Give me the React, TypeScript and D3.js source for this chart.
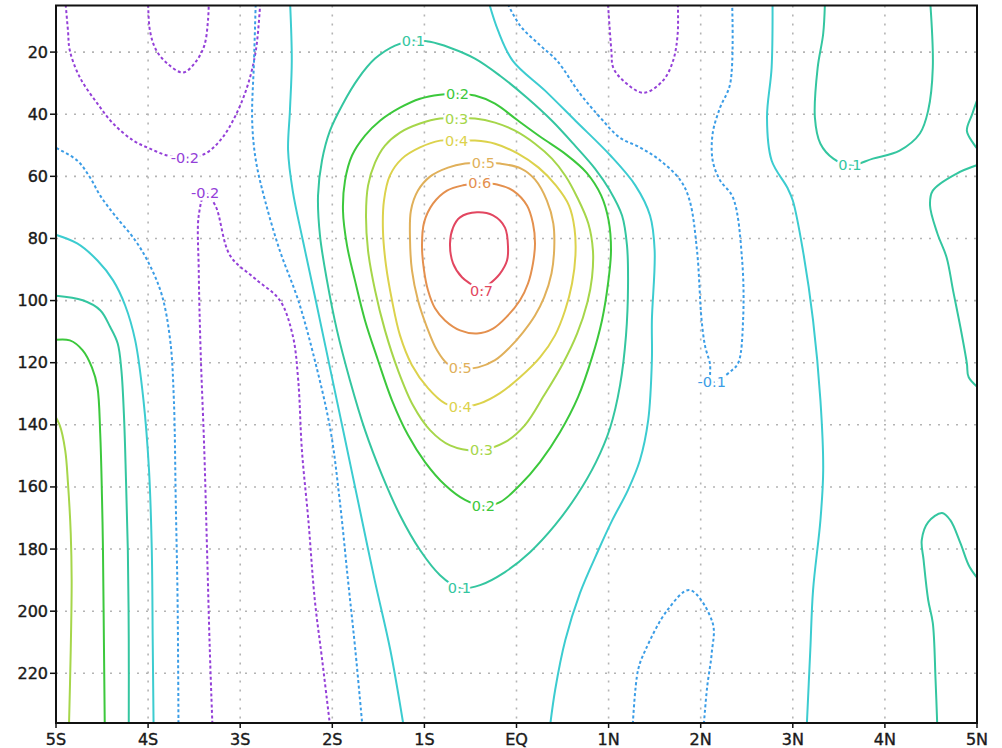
import React from 'react';
import * as d3 from 'd3';

const W = 1002;
const H = 748;
const PLOT = { left: 56, right: 977, top: 5.5, bottom: 723 };

const latDomain: [number, number] = [-5, 5];
const depthDomain: [number, number] = [5, 236];
const latTicks = [-5, -4, -3, -2, -1, 0, 1, 2, 3, 4, 5];
const latTickLabels = ['5S', '4S', '3S', '2S', '1S', 'EQ', '1N', '2N', '3N', '4N', '5N'];
const depthTicks = [20, 40, 60, 80, 100, 120, 140, 160, 180, 200, 220];

const levelColors: Record<string, string> = {
  '-0.2': '#9440d8',
  '-0.1': '#3b9de6',
  '0.0': '#3cccd0',
  '0.1': '#34c6a0',
  '0.2': '#3cc83c',
  '0.3': '#a6d64a',
  '0.4': '#dcd24c',
  '0.5': '#e0b05a',
  '0.6': '#e4904e',
  '0.7': '#e24660',
};

type P = [number, number];

// contour lines, [latitude, depth]
const neg02TopLeft: P[] = [[-4.9, 3], [-4.87, 13.1], [-4.85, 19.5], [-4.74, 28.2], [-4.55, 36.6], [-4.38, 43.0], [-4.16, 48.5], [-3.98, 51.1], [-3.79, 53.3], [-3.6, 54.0], [-3.38, 52.7], [-3.2, 47.8], [-3.05, 40.4], [-2.92, 30.8], [-2.83, 19.5], [-2.78, 3]];
const neg02TopSmall: P[] = [[-4.0, 3], [-3.98, 13.1], [-3.91, 19.5], [-3.79, 23.7], [-3.62, 26.6], [-3.49, 23.4], [-3.39, 17.9], [-3.35, 9.9], [-3.34, 3]];
const neg02Trough: P[] = [[-3.3, 238], [-3.33, 212.5], [-3.36, 180.3], [-3.39, 148.2], [-3.43, 116], [-3.45, 90.3], [-3.45, 72.6], [-3.38, 65.5], [-3.27, 69.4], [-3.11, 85.5], [-2.84, 92.9], [-2.57, 99.9], [-2.43, 111.2], [-2.37, 125.7], [-2.33, 148.2], [-2.26, 170.7], [-2.19, 196.4], [-2.11, 215.7], [-2.02, 238]];
const neg02TopRight: P[] = [[0.99, 3], [1.03, 19.5], [1.05, 25], [1.16, 29.2], [1.38, 33.1], [1.59, 29.2], [1.7, 22.8], [1.75, 14.1], [1.75, 3]];

const neg01Left: P[] = [[-5.05, 50.1], [-4.77, 54.9], [-4.63, 60.4], [-4.52, 66.2], [-4.36, 72.6], [-4.14, 80.6], [-3.98, 88.7], [-3.85, 98.3], [-3.76, 112.8], [-3.72, 132.1], [-3.7, 164.2], [-3.68, 196.4], [-3.67, 238]];
const neg01Mid: P[] = [[-2.83, 3], [-2.85, 22.8], [-2.87, 42.1], [-2.83, 54.9], [-2.73, 67.8], [-2.57, 83.9], [-2.37, 99.9], [-2.19, 119.2], [-2.02, 141.7], [-1.92, 164.2], [-1.83, 189.9], [-1.75, 212.5], [-1.67, 238]];
const neg01Right: P[] = [[-0.12, 3], [0.04, 11.5], [0.26, 17.9], [0.44, 22.8], [0.69, 33.4], [0.91, 41.1], [1.12, 47.5], [1.34, 50.7], [1.56, 54.9], [1.78, 61.3], [1.88, 67.8], [1.96, 83.9], [2.01, 106.4], [2.05, 115.0], [2.1, 120.2], [2.12, 126.3], [2.34, 122.4], [2.41, 119.9], [2.46, 106.4], [2.45, 87.1], [2.35, 66.8], [2.21, 61.3], [2.13, 54.9], [2.13, 46.2], [2.21, 37.9], [2.32, 30.2], [2.34, 3]];
const neg01Bottom: P[] = [[1.26, 238], [1.32, 218.9], [1.4, 212.5], [1.64, 199.6], [1.88, 193.2], [2.13, 203.8], [2.12, 213.4], [2.07, 224.4], [2.03, 238]];

const zeroLeft: P[] = [[-5.05, 78.4], [-4.77, 81.6], [-4.55, 87.1], [-4.38, 93.5], [-4.25, 101.5], [-4.14, 112.8], [-4.05, 132.1], [-3.99, 154.6], [-3.96, 180.3], [-3.95, 209.3], [-3.94, 238]];
const zeroMidLeft: P[] = [[-2.46, 3], [-2.44, 22.8], [-2.46, 38.8], [-2.48, 51.7], [-2.43, 64.6], [-2.32, 80.6], [-2.18, 99.9], [-2.02, 122.4], [-1.86, 144.9], [-1.7, 167.5], [-1.54, 190], [-1.37, 212.5], [-1.22, 238]];
const zeroMidRight: P[] = [[-0.31, 3], [-0.2, 13.1], [-0.04, 22.8], [0.31, 32.4], [0.64, 42.1], [1.02, 53.3], [1.29, 62.9], [1.45, 72.6], [1.5, 83.9], [1.47, 106.4], [1.47, 119.2], [1.43, 138.5], [1.34, 151.4], [1.21, 161], [1.04, 170.7], [0.89, 180.3], [0.69, 194.1], [0.53, 209.3], [0.42, 225.3], [0.36, 238]];
const zeroRight: P[] = [[2.78, 3], [2.77, 25.0], [2.72, 41.1], [2.77, 54.9], [2.94, 63.6], [3.0, 67.8], [3.11, 83.9], [3.22, 106.4], [3.3, 132.1], [3.33, 154.6], [3.3, 170.7], [3.22, 193.2], [3.19, 212.5], [3.15, 238]];

const pos01Left: P[] = [[-5.05, 98.3], [-4.71, 99.9], [-4.52, 103.1], [-4.41, 108.6], [-4.33, 113.8], [-4.29, 122.4], [-4.26, 138.5], [-4.24, 157.8], [-4.22, 180.3], [-4.21, 209.3], [-4.21, 238]];
const pos01Core: P[] = [[-1.124, 16.3], [-1.319, 17.9], [-1.536, 22.1], [-1.721, 28.6], [-1.884, 36.6], [-2.025, 45.3], [-2.112, 54.9], [-2.155, 66.2], [-2.134, 79.0], [-2.058, 93.5], [-1.949, 109.6], [-1.808, 125.7], [-1.645, 141.7], [-1.46, 156.2], [-1.265, 169.1], [-1.048, 180.3], [-0.83, 188.4], [-0.624, 192.5], [-0.396, 191.6], [-0.125, 187.4], [0.147, 181.0], [0.418, 172.3], [0.657, 162.6], [0.863, 152.0], [1.015, 141.1], [1.124, 127.3], [1.189, 111.2], [1.211, 95.1], [1.2, 82.3], [1.146, 72.6], [1.015, 64.6], [0.852, 57.5], [0.635, 50.1], [0.385, 42.1], [0.114, 34.7], [-0.179, 27.6], [-0.451, 22.1], [-0.722, 18.6], [-0.939, 16.7]];
const pos01TopRight: P[] = [[3.35, 3], [3.33, 14.1], [3.27, 25.0], [3.24, 41.1], [3.3, 49.5], [3.44, 54.3], [3.62, 56.5], [3.87, 54.3], [4.16, 51.7], [4.38, 46.2], [4.47, 38.8], [4.52, 25.0], [4.49, 3]];
const pos01EdgeBump: P[] = [[5.05, 31.5], [4.95, 39.8], [4.89, 45.3], [4.96, 49.4], [5.05, 52.7]];
const pos01EdgeMid: P[] = [[5.05, 55.9], [4.78, 59.1], [4.52, 64.6], [4.49, 69.4], [4.57, 78.4], [4.67, 86.1], [4.74, 96.7], [4.82, 108.6], [4.89, 120.2], [4.91, 124.7], [5.05, 128.9]];
const pos01EdgeLow: P[] = [[4.57, 238], [4.55, 222.1], [4.52, 203.8], [4.47, 196.4], [4.42, 183.5], [4.4, 177.1], [4.47, 171.3], [4.62, 168.4], [4.71, 170.7], [4.82, 178.1], [4.92, 185.8], [5.05, 191.0]];

const pos02Left: P[] = [[-5.05, 112.8], [-4.85, 112.8], [-4.71, 116.0], [-4.61, 121.5], [-4.55, 127.9], [-4.52, 142.7], [-4.5, 164.2], [-4.49, 180.3], [-4.48, 209.3], [-4.47, 238]];
const pos02Core: P[] = [[-0.635, 33.4], [-0.831, 33.7], [-1.048, 35.0], [-1.265, 37.9], [-1.482, 42.1], [-1.645, 46.9], [-1.786, 53.3], [-1.862, 61.4], [-1.884, 71.0], [-1.84, 82.3], [-1.754, 93.5], [-1.645, 106.4], [-1.504, 119.2], [-1.352, 132.1], [-1.178, 143.3], [-0.993, 152.0], [-0.776, 159.4], [-0.559, 164.2], [-0.364, 166.2], [-0.179, 164.9], [0.038, 159.4], [0.255, 152.0], [0.472, 142.4], [0.668, 131.1], [0.82, 118.3], [0.928, 106.4], [0.994, 94.5], [1.026, 83.9], [1.0, 74.2], [0.92, 66.2], [0.76, 58.8], [0.54, 53.0], [0.27, 47.5], [0.005, 41.8], [-0.233, 36.6], [-0.451, 34.0]];

const pos03Left: P[] = [[-5.05, 135.3], [-4.96, 140.1], [-4.9, 148.2], [-4.87, 158.8], [-4.84, 174.9], [-4.83, 190], [-4.84, 212.5], [-4.86, 238]];
const pos03Core: P[] = [[-0.646, 41.4], [-0.831, 41.4], [-1.048, 43.0], [-1.265, 45.9], [-1.428, 50.1], [-1.536, 55.6], [-1.612, 63.0], [-1.634, 72.6], [-1.612, 83.9], [-1.536, 96.7], [-1.428, 109.6], [-1.287, 122.4], [-1.124, 133.7], [-0.939, 141.7], [-0.722, 146.6], [-0.396, 148.2], [-0.125, 145.6], [0.092, 140.1], [0.3, 130.5], [0.5, 120.5], [0.66, 110.5], [0.77, 100.5], [0.82, 92.5], [0.83, 83.9], [0.78, 75.2], [0.66, 66.8], [0.53, 59.8], [0.385, 54.3], [0.201, 49.5], [-0.016, 45.3], [-0.233, 42.7], [-0.451, 41.4]];

const pos04Core: P[] = [[-0.646, 48.5], [-0.831, 48.5], [-1.048, 50.7], [-1.243, 54.3], [-1.374, 59.7], [-1.439, 67.8], [-1.45, 77.4], [-1.417, 88.7], [-1.352, 99.9], [-1.265, 111.2], [-1.135, 120.8], [-0.961, 128.2], [-0.776, 133.1], [-0.613, 134.3], [-0.396, 133.1], [-0.179, 129.8], [0.038, 124.7], [0.255, 118.3], [0.418, 111.2], [0.527, 103.2], [0.603, 94.5], [0.64, 85.5], [0.63, 76.8], [0.57, 69.4], [0.43, 63.0], [0.24, 57.2], [0.016, 52.7], [-0.233, 49.5], [-0.451, 48.5]];

const pos05Core: P[] = [[-0.364, 55.6], [-0.559, 55.9], [-0.744, 57.2], [-0.939, 60.1], [-1.07, 64.6], [-1.146, 71.0], [-1.156, 80.6], [-1.135, 90.3], [-1.07, 99.9], [-0.972, 108.6], [-0.863, 116.0], [-0.744, 120.5], [-0.613, 121.8], [-0.418, 121.5], [-0.233, 119.2], [-0.071, 115.0], [0.071, 110.2], [0.201, 104.8], [0.3, 99.0], [0.38, 91.3], [0.41, 82.9], [0.4, 75.2], [0.33, 67.8], [0.2, 61.0], [0.05, 57.5], [-0.179, 55.9]];

const pos06Core: P[] = [[-0.396, 62.3], [-0.581, 62.9], [-0.755, 64.6], [-0.907, 68.8], [-1.004, 74.9], [-1.026, 82.3], [-1.004, 90.3], [-0.961, 96.7], [-0.885, 102.5], [-0.776, 106.4], [-0.613, 109.6], [-0.429, 110.6], [-0.255, 109.0], [-0.103, 105.1], [0.038, 99.9], [0.125, 94.5], [0.179, 88.0], [0.201, 81.6], [0.179, 75.2], [0.114, 69.4], [-0.038, 64.6], [-0.212, 62.6]];

const pos07Core: P[] = [[-0.689, 76.5], [-0.613, 73.2], [-0.429, 71.6], [-0.255, 72.6], [-0.125, 76.5], [-0.092, 82.9], [-0.103, 87.1], [-0.179, 91.3], [-0.288, 94.5], [-0.396, 96.7], [-0.505, 94.5], [-0.592, 92.5], [-0.689, 88.0], [-0.722, 81.6]];

const contourLines: { level: string; closed: boolean; pts: P[] }[] = [
  { level: '-0.2', closed: false, pts: neg02TopLeft },
  { level: '-0.2', closed: false, pts: neg02TopSmall },
  { level: '-0.2', closed: false, pts: neg02Trough },
  { level: '-0.2', closed: false, pts: neg02TopRight },
  { level: '-0.1', closed: false, pts: neg01Left },
  { level: '-0.1', closed: false, pts: neg01Mid },
  { level: '-0.1', closed: false, pts: neg01Right },
  { level: '-0.1', closed: false, pts: neg01Bottom },
  { level: '0.0', closed: false, pts: zeroLeft },
  { level: '0.0', closed: false, pts: zeroMidLeft },
  { level: '0.0', closed: false, pts: zeroMidRight },
  { level: '0.0', closed: false, pts: zeroRight },
  { level: '0.1', closed: false, pts: pos01Left },
  { level: '0.1', closed: true, pts: pos01Core },
  { level: '0.1', closed: false, pts: pos01TopRight },
  { level: '0.1', closed: false, pts: pos01EdgeBump },
  { level: '0.1', closed: false, pts: pos01EdgeMid },
  { level: '0.1', closed: false, pts: pos01EdgeLow },
  { level: '0.2', closed: false, pts: pos02Left },
  { level: '0.2', closed: true, pts: pos02Core },
  { level: '0.3', closed: false, pts: pos03Left },
  { level: '0.3', closed: true, pts: pos03Core },
  { level: '0.4', closed: true, pts: pos04Core },
  { level: '0.5', closed: true, pts: pos05Core },
  { level: '0.6', closed: true, pts: pos06Core },
  { level: '0.7', closed: true, pts: pos07Core },
];

const contourLabels: { level: string; lat: number; depth: number }[] = [
  { level: '-0.2', lat: -3.6, depth: 54.0 },
  { level: '-0.2', lat: -3.38, depth: 65.5 },
  { level: '0.1', lat: -1.12, depth: 16.3 },
  { level: '0.2', lat: -0.64, depth: 33.4 },
  { level: '0.3', lat: -0.65, depth: 41.4 },
  { level: '0.4', lat: -0.65, depth: 48.5 },
  { level: '0.5', lat: -0.36, depth: 55.6 },
  { level: '0.6', lat: -0.4, depth: 62.3 },
  { level: '0.7', lat: -0.38, depth: 97.0 },
  { level: '0.5', lat: -0.61, depth: 121.8 },
  { level: '0.4', lat: -0.61, depth: 134.3 },
  { level: '0.3', lat: -0.38, depth: 148.2 },
  { level: '0.2', lat: -0.36, depth: 166.2 },
  { level: '0.1', lat: -0.62, depth: 192.5 },
  { level: '0.1', lat: 3.62, depth: 56.5 },
  { level: '-0.1', lat: 2.12, depth: 126.3 },
];

export default function App() {
  const x = d3.scaleLinear().domain(latDomain).range([PLOT.left, PLOT.right]);
  const y = d3.scaleLinear().domain(depthDomain).range([PLOT.top, PLOT.bottom]);
  const openLine = d3.line<P>().x(d => x(d[0])).y(d => y(d[1])).curve(d3.curveCatmullRom.alpha(0.5));
  const closedLine = d3.line<P>().x(d => x(d[0])).y(d => y(d[1])).curve(d3.curveCatmullRomClosed.alpha(0.5));
  const font = "'DejaVu Sans', 'Liberation Sans', sans-serif";

  return (
    <svg width={W} height={H} style={{ position: 'absolute', left: 0, top: 0, background: '#fff' }}>
      <defs>
        <clipPath id="plotclip">
          <rect x={PLOT.left} y={PLOT.top} width={PLOT.right - PLOT.left} height={PLOT.bottom - PLOT.top} />
        </clipPath>
      </defs>
      <rect x={0} y={0} width={W} height={H} fill="#fff" />
      <g>
        {latTicks.slice(1, -1).map(t => (
          <line key={'vx' + t} x1={x(t)} x2={x(t)} y1={PLOT.top} y2={PLOT.bottom} stroke="#b4b4b4" strokeWidth={1.6} strokeDasharray="2,7" />
        ))}
        {depthTicks.map(t => (
          <line key={'hy' + t} x1={PLOT.left} x2={PLOT.right} y1={y(t)} y2={y(t)} stroke="#b4b4b4" strokeWidth={1.6} strokeDasharray="2,7" />
        ))}
      </g>
      <g clipPath="url(#plotclip)">
        {contourLines.map((c, i) => (
          <path
            key={i}
            d={(c.closed ? closedLine : openLine)(c.pts) || ''}
            fill="none"
            stroke={levelColors[c.level]}
            strokeWidth={2}
            strokeDasharray={c.level.startsWith('-') ? '3,2.5' : undefined}
            strokeLinejoin="round"
          />
        ))}
        {contourLabels.map((l, i) => (
          <text
            key={'lb' + i}
            x={x(l.lat)}
            y={y(l.depth)}
            textAnchor="middle"
            dominantBaseline="central"
            fontFamily={font}
            fontSize={14.5}
            fill={levelColors[l.level]}
            stroke="#fff"
            strokeWidth={5}
            paintOrder="stroke"
          >
            {l.level}
          </text>
        ))}
      </g>
      <rect x={PLOT.left} y={PLOT.top} width={PLOT.right - PLOT.left} height={PLOT.bottom - PLOT.top} fill="none" stroke="#111" strokeWidth={2} />
      {depthTicks.map(t => (
        <g key={'yt' + t}>
          <line x1={PLOT.left - 6} x2={PLOT.left} y1={y(t)} y2={y(t)} stroke="#111" strokeWidth={1.5} />
          <text x={PLOT.left - 8} y={y(t)} textAnchor="end" dominantBaseline="central" fontFamily={font} fontSize={16} fill="#1a1a1a" stroke="#1a1a1a" strokeWidth={0.4}>{t}</text>
        </g>
      ))}
      {latTicks.map((t, i) => (
        <g key={'xt' + t}>
          <line x1={x(t)} x2={x(t)} y1={PLOT.bottom} y2={PLOT.bottom + 5} stroke="#111" strokeWidth={1.5} />
          <text x={x(t)} y={PLOT.bottom + 22} textAnchor="middle" fontFamily={font} fontSize={16} fill="#1a1a1a" stroke="#1a1a1a" strokeWidth={0.4}>{latTickLabels[i]}</text>
        </g>
      ))}
    </svg>
  );
}
